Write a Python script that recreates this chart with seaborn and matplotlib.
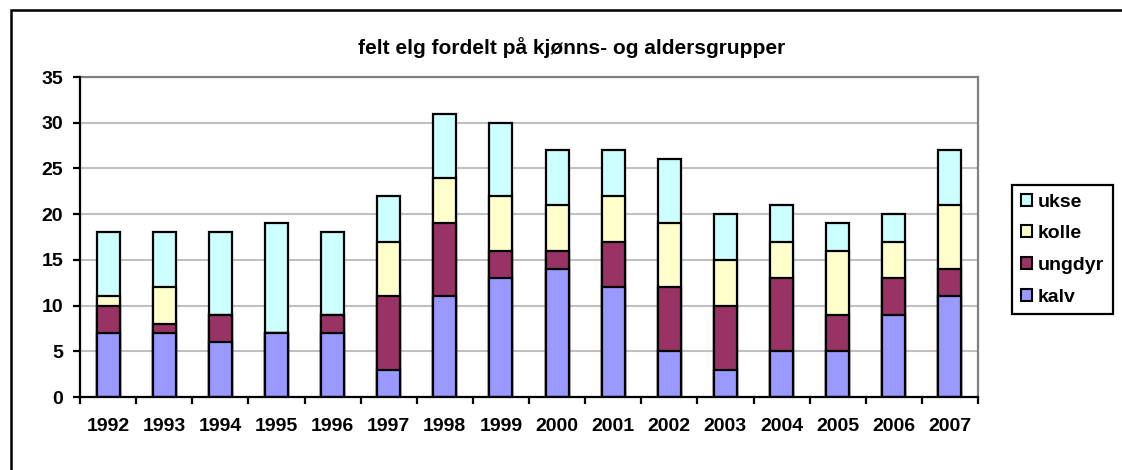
import matplotlib
matplotlib.use("Agg")
import matplotlib.pyplot as plt
import seaborn as sns
import pandas as pd
import numpy as np
from matplotlib.patches import Rectangle, Patch

years = ["1992", "1993", "1994", "1995", "1996", "1997", "1998", "1999",
         "2000", "2001", "2002", "2003", "2004", "2005", "2006", "2007"]
kalv = [7, 7, 6, 7, 7, 3, 11, 13, 14, 12, 5, 3, 5, 5, 9, 11]
ungdyr = [3, 1, 3, 0, 2, 8, 8, 3, 2, 5, 7, 7, 8, 4, 4, 3]
kolle = [1, 4, 0, 0, 0, 6, 5, 6, 5, 5, 7, 5, 4, 7, 4, 7]
ukse = [7, 6, 9, 12, 9, 5, 7, 8, 6, 5, 7, 5, 4, 3, 3, 6]

series_names = ["kalv", "ungdyr", "kolle", "ukse"]
colors = {"kalv": "#9999FF", "ungdyr": "#993366", "kolle": "#FFFFCC", "ukse": "#CCFFFF"}

sns.set_theme(style="white")
plt.rcParams["font.family"] = ["Liberation Sans", "DejaVu Sans"]
plt.rcParams["font.weight"] = "bold"
plt.rcParams["text.color"] = "black"
plt.rcParams["xtick.color"] = "black"
plt.rcParams["ytick.color"] = "black"
plt.rcParams["xtick.labelcolor"] = "black"
plt.rcParams["ytick.labelcolor"] = "black"

df = pd.DataFrame({"year": years, "kalv": kalv, "ungdyr": ungdyr, "kolle": kolle, "ukse": ukse})
cum = df[series_names].cumsum(axis=1)

fig = plt.figure(figsize=(11.22, 4.70), dpi=100)
ax = fig.add_axes([80 / 1122, 1 - 397 / 470, (978 - 80) / 1122, (397 - 77) / 470])

for name in reversed(series_names):
    sns.barplot(x=df["year"], y=cum[name], color=colors[name], width=0.41,
                edgecolor="black", linewidth=1.6, saturation=1, ax=ax, zorder=3)

ax.set_ylim(0, 35)
ax.set_yticks(range(0, 36, 5))
ax.set_xlim(-0.5, len(years) - 0.5)
ax.set_xlabel("")
ax.set_ylabel("")
ax.yaxis.grid(True, color="#C0C0C0", linewidth=1.5, zorder=0)
ax.set_axisbelow(True)
for s in ["top", "right"]:
    ax.spines[s].set_color("#808080")
    ax.spines[s].set_linewidth(1.6)
for s in ["left", "bottom"]:
    ax.spines[s].set_color("black")
    ax.spines[s].set_linewidth(1.6)
    ax.spines[s].set_zorder(5)

ax.tick_params(axis="x", which="major", length=0, pad=15, labelsize=14, labelcolor="black")
ax.set_xticks(np.arange(-0.5, len(years), 1.0), minor=True)
ax.tick_params(axis="x", which="minor", length=5, width=1.6, color="black", direction="out", bottom=True)
ax.tick_params(axis="y", length=5, width=1.6, color="black", direction="out", left=True,
               labelsize=14, pad=7, labelcolor="black")
for lab in ax.get_xticklabels() + ax.get_yticklabels():
    lab.set_fontweight("bold")

fig.text(572 / 1122, 1 - 54 / 470, "felt elg fordelt på kjønns- og aldersgrupper",
         ha="center", va="baseline", fontsize=15, fontweight="bold", color="black")

handles = [Patch(facecolor=colors[n], edgecolor="black", linewidth=1.5, label=n)
           for n in reversed(series_names)]
leg = fig.legend(handles=handles, loc="upper left", bbox_to_anchor=(1012 / 1122, 1 - 185 / 470),
                 frameon=True, fancybox=False, edgecolor="black", framealpha=1,
                 prop={"size": 14, "weight": "bold"}, handlelength=0.57, handleheight=0.57,
                 handletextpad=0.3, labelspacing=0.75, borderpad=0.45, borderaxespad=0,
                 labelcolor="black")
leg.get_frame().set_linewidth(1.6)

fig.patches.append(Rectangle((10.5 / 1122, -0.05), 1.1, 1.05 - 9.5 / 470, transform=fig.transFigure,
                             fill=False, edgecolor="black", linewidth=1.8))

fig.savefig("out.png", dpi=100)
